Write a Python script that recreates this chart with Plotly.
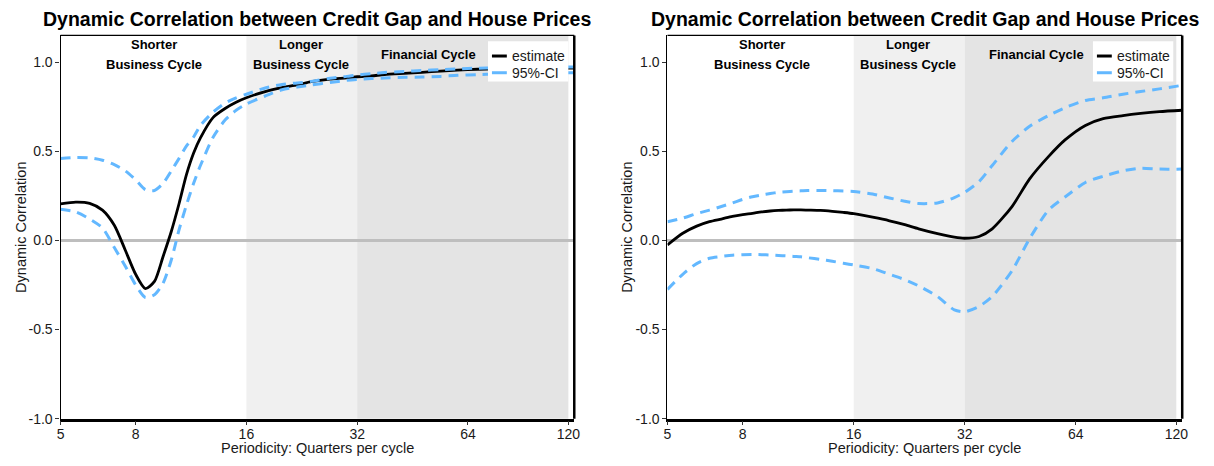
import plotly.graph_objects as go
import math

# ---------------- data ----------------
periods = [5, 5.5, 6, 6.5, 7, 7.5, 8, 8.5, 9, 9.5, 10, 10.5, 11, 11.5, 12, 13, 14, 15, 16,
           18, 20, 22, 24, 27, 30, 32, 35, 38, 43, 48, 54, 60, 68, 76, 86, 96, 108, 124.5]

left_estimate = [0.205, 0.215, 0.208, 0.17, 0.085, -0.055, -0.19, -0.27, -0.23, -0.09, 0.05, 0.207,
                 0.37, 0.49, 0.575, 0.69, 0.74, 0.775, 0.80,
                 0.835, 0.857, 0.872, 0.89, 0.905, 0.912, 0.918, 0.923, 0.93, 0.937, 0.943, 0.95,
                 0.955, 0.96, 0.962, 0.963, 0.965, 0.966, 0.967]
left_upper = [0.46, 0.465, 0.463, 0.45, 0.425, 0.39, 0.34, 0.285, 0.28, 0.32, 0.39, 0.46,
              0.53, 0.58, 0.645, 0.72, 0.77, 0.80, 0.82,
              0.855, 0.875, 0.883, 0.892, 0.91, 0.92, 0.928, 0.935, 0.942, 0.948, 0.953, 0.958,
              0.962, 0.966, 0.968, 0.97, 0.971, 0.972, 0.973]
left_lower = [0.175, 0.16, 0.12, 0.07, -0.04, -0.145, -0.25, -0.32, -0.305, -0.24, -0.11, 0.06,
              0.20, 0.32, 0.42, 0.58, 0.675, 0.73, 0.765,
              0.81, 0.845, 0.86, 0.872, 0.886, 0.898, 0.903, 0.908, 0.911, 0.915, 0.916, 0.92,
              0.926, 0.93, 0.933, 0.935, 0.937, 0.939, 0.94]

right_estimate = [-0.025, 0.04, 0.08, 0.105, 0.12, 0.135, 0.145, 0.152, 0.16, 0.165, 0.168, 0.17,
                  0.171, 0.171, 0.17, 0.168, 0.163, 0.157, 0.15,
                  0.13, 0.11, 0.088, 0.065, 0.038, 0.018, 0.012, 0.022, 0.065, 0.19, 0.345, 0.47,
                  0.565, 0.645, 0.683, 0.70, 0.712, 0.722, 0.73]
right_upper = [0.105, 0.125, 0.15, 0.17, 0.19, 0.21, 0.23, 0.245, 0.255, 0.263, 0.27, 0.273,
               0.276, 0.278, 0.28, 0.28, 0.279, 0.277, 0.275,
               0.26, 0.238, 0.22, 0.207, 0.21, 0.24, 0.27, 0.33, 0.42, 0.555, 0.64, 0.70,
               0.745, 0.785, 0.80, 0.82, 0.835, 0.85, 0.87]
right_lower = [-0.275, -0.19, -0.13, -0.10, -0.09, -0.083, -0.08, -0.079, -0.08, -0.082, -0.085, -0.087,
               -0.09, -0.092, -0.097, -0.107, -0.117, -0.128, -0.138,
               -0.158, -0.19, -0.22, -0.255, -0.315, -0.39, -0.40, -0.37, -0.315, -0.17, 0.01, 0.17,
               0.245, 0.325, 0.36, 0.39, 0.405, 0.40, 0.40]

x_ticks = [5, 8, 16, 32, 64, 120]
y_ticks = [-1.0, -0.5, 0.0, 0.5, 1.0]
title_text = "Dynamic Correlation between Credit Gap and House Prices"
x_title = "Periodicity: Quarters per cycle"
y_title = "Dynamic Correlation"
legend_labels = ["estimate", "95%-CI"]
bands = [(16, 32, "#f0f0f0"), (32, 120, "#e4e4e4")]
band_labels = [(9.0, ["Shorter", "Business Cycle"]), (22.5, ["Longer", "Business Cycle"]),
               (50.0, ["Financial Cycle"])]

# ---------------- figure ----------------
W, H = 1214, 466
FONT = "Liberation Sans, Arial, sans-serif"
BLUE = "#63B8FF"
TXT = "#1a1a1a"
DASH = "10px,7px"

fig = go.Figure()

panels = [
    dict(xa="x", ya="y", est=left_estimate, up=left_upper, lo=left_lower),
    dict(xa="x2", ya="y2", est=right_estimate, up=right_upper, lo=right_lower),
]

for p in panels:
    fig.add_trace(go.Scatter(x=periods, y=p["est"], mode="lines", name=legend_labels[0], showlegend=False,
                             line=dict(color="black", width=2.8, shape="spline", smoothing=0.7),
                             xaxis=p["xa"], yaxis=p["ya"]))
    fig.add_trace(go.Scatter(x=periods, y=p["up"], mode="lines", name=legend_labels[1], showlegend=False,
                             line=dict(color=BLUE, width=3, dash=DASH, shape="spline", smoothing=0.7),
                             xaxis=p["xa"], yaxis=p["ya"]))
    fig.add_trace(go.Scatter(x=periods, y=p["lo"], mode="lines", name=legend_labels[1], showlegend=False,
                             line=dict(color=BLUE, width=3, dash=DASH, shape="spline", smoothing=0.7),
                             xaxis=p["xa"], yaxis=p["ya"]))

x_doms = [[57 / W, 575 / W], [669 / W, 1188 / W]]
y_dom = [40 / H, 430 / H]
xrange = [math.log10(5), math.log10(124.5)]

axis_common = dict(ticks="outside", ticklen=4, tickwidth=1, tickcolor="#333",
                   tickfont=dict(family=FONT, size=14, color=TXT),
                   showgrid=False, showline=True, linecolor="black")

fig.update_layout(
    width=W, height=H, margin=dict(l=0, r=0, t=0, b=0),
    paper_bgcolor="white", plot_bgcolor="white",
    font=dict(family=FONT), showlegend=False,
    xaxis=dict(type="log", domain=x_doms[0], range=xrange, tickvals=x_ticks,
               ticktext=[str(v) for v in x_ticks], linewidth=2.5, anchor="y",
               ticklabelstandoff=-3, **axis_common),
    yaxis=dict(domain=y_dom, range=[-1, 1.15], tickvals=y_ticks,
               ticktext=["%.1f" % v for v in y_ticks], linewidth=1.2, anchor="x",
               zeroline=True, zerolinecolor="#bebebe", zerolinewidth=3, **axis_common),
    xaxis2=dict(type="log", domain=x_doms[1], range=xrange, tickvals=x_ticks,
                ticktext=[str(v) for v in x_ticks], linewidth=2.5, anchor="y2",
                ticklabelstandoff=-3, **axis_common),
    yaxis2=dict(domain=y_dom, range=[-1, 1.15], tickvals=y_ticks,
                ticktext=["%.1f" % v for v in y_ticks], linewidth=1.2, anchor="x2",
                zeroline=True, zerolinecolor="#bebebe", zerolinewidth=3, **axis_common),
)

shapes = []
annotations = []
legend_boxes = [488, 1098]  # left pixel of each in-panel legend box
for i, (xa, ya) in enumerate([("x", "y"), ("x2", "y2")]):
    for (a, b, col) in bands:
        shapes.append(dict(type="rect", xref=xa, yref=ya + " domain", x0=a, x1=b, y0=0, y1=1,
                           fillcolor=col, line=dict(width=0), layer="below"))
    # top and right borders
    shapes.append(dict(type="line", xref=xa + " domain", yref=ya + " domain", x0=0, x1=1, y0=1, y1=1,
                       line=dict(color="black", width=1.2), layer="above"))
    shapes.append(dict(type="line", xref=xa + " domain", yref=ya + " domain", x0=1, x1=1, y0=0, y1=1,
                       line=dict(color="black", width=2.5), layer="above"))
    # legend (box, key samples, labels)
    lx = legend_boxes[i]
    shapes.append(dict(type="rect", xref="paper", yref="paper", x0=lx / W, x1=(lx + 81) / W,
                       y0=1 - 83 / H, y1=1 - 42 / H, fillcolor="white", line=dict(width=0), layer="above"))
    shapes.append(dict(type="line", xref="paper", yref="paper", x0=(lx + 4) / W, x1=(lx + 19) / W,
                       y0=1 - 57 / H, y1=1 - 57 / H, line=dict(color="black", width=3), layer="above"))
    shapes.append(dict(type="line", xref="paper", yref="paper", x0=(lx + 4) / W, x1=(lx + 19) / W,
                       y0=1 - 74 / H, y1=1 - 74 / H, line=dict(color=BLUE, width=3), layer="above"))
    for t, yy in zip(legend_labels, [57, 74]):
        annotations.append(dict(x=(lx + 22) / W, y=1 - yy / H, xref="paper", yref="paper", text=t,
                                showarrow=False, font=dict(family=FONT, size=14, color=TXT),
                                xanchor="left", yanchor="middle"))
    # band labels
    for (xc, lines) in band_labels:
        ys = [1.097, 0.987] if len(lines) == 2 else [1.042]
        for t, yy in zip(lines, ys):
            annotations.append(dict(x=math.log10(xc), y=yy, xref=xa, yref=ya, text="<b>%s</b>" % t,
                                    showarrow=False, font=dict(family=FONT, size=13, color="black"),
                                    xanchor="center", yanchor="middle"))
    cx = sum(x_doms[i]) / 2
    annotations.append(dict(x=cx, y=1 - 19 / H, xref="paper", yref="paper",
                            text="<b>%s</b>" % title_text, showarrow=False,
                            font=dict(family=FONT, size=19.5, color="black"),
                            xanchor="center", yanchor="middle"))
    annotations.append(dict(x=cx, y=0, xref="paper", yref="paper",
                            text=x_title, showarrow=False,
                            font=dict(family=FONT, size=14.5, color=TXT),
                            xanchor="center", yanchor="bottom", yshift=0))
    annotations.append(dict(x=(17 + (0 if i == 0 else 611)) / W, y=1 - 231 / H, xref="paper", yref="paper",
                            text=y_title, showarrow=False, textangle=-90,
                            font=dict(family=FONT, size=14.5, color=TXT),
                            xanchor="center", yanchor="middle"))

fig.update_layout(shapes=shapes, annotations=annotations)
fig.write_html("out.html")
